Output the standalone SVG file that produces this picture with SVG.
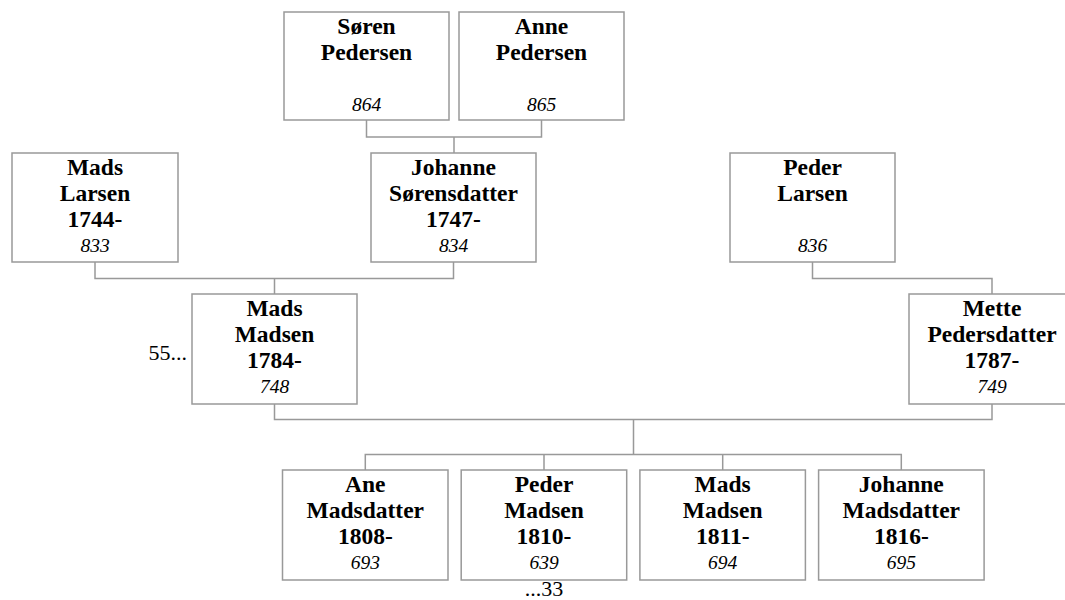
<svg xmlns="http://www.w3.org/2000/svg" width="1065" height="600" viewBox="0 0 1065 600" font-family="Liberation Serif, Times New Roman, serif">
<style>
.box{fill:#fff;stroke:#999;stroke-width:1.5}
.n{font-weight:bold;font-size:23.5px;text-anchor:middle;fill:#000}
.id{font-style:italic;font-size:19.5px;text-anchor:middle;fill:#000}
.x{font-size:22px;fill:#000}
.c{fill:none;stroke:#999;stroke-width:1.5}
</style>
<rect width="1065" height="600" fill="#fff"/>
<g id="connectors">
<path class="c" d="M366.5,120V137H541.5V120M454,137V153"/>
<path class="c" d="M95,262V278.5H453.5V262M274.5,278.5V294"/>
<path class="c" d="M812.5,262V278.5H992V294"/>
<path class="c" d="M274.5,404V419.5H992V404M633.5,419.5V454.5"/>
<path class="c" d="M365.3,470V454.5H901.3V470M544,454.5V470M722.7,454.5V470"/>
</g>
<g id="n864"><rect class="box" x="284" y="12" width="165" height="108"/>
<text class="n" x="366.5" y="34">Søren</text><text class="n" x="366.5" y="59.5">Pedersen</text><text class="id" x="366.5" y="111">864</text></g>
<g id="n865"><rect class="box" x="459" y="12" width="165" height="108"/>
<text class="n" x="541.5" y="34">Anne</text><text class="n" x="541.5" y="59.5">Pedersen</text><text class="id" x="541.5" y="111">865</text></g>
<g id="n833"><rect class="box" x="12" y="153" width="166" height="109"/>
<text class="n" x="95" y="175">Mads</text><text class="n" x="95" y="200.5">Larsen</text><text class="n" x="95" y="227">1744-</text><text class="id" x="95" y="251.5">833</text></g>
<g id="n834"><rect class="box" x="371" y="153" width="165" height="109"/>
<text class="n" x="453.5" y="175">Johanne</text><text class="n" x="453.5" y="200.5">Sørensdatter</text><text class="n" x="453.5" y="227">1747-</text><text class="id" x="453.5" y="251.5">834</text></g>
<g id="n836"><rect class="box" x="730" y="153" width="165" height="109"/>
<text class="n" x="812.5" y="175">Peder</text><text class="n" x="812.5" y="200.5">Larsen</text><text class="id" x="812.5" y="251.5">836</text></g>
<g id="n748"><rect class="box" x="192" y="294" width="165" height="110"/>
<text class="n" x="274.5" y="316">Mads</text><text class="n" x="274.5" y="341.5">Madsen</text><text class="n" x="274.5" y="368">1784-</text><text class="id" x="274.5" y="392.5">748</text></g>
<text class="x" x="187" y="359.5" text-anchor="end">55...</text>
<g id="n749"><rect class="box" x="909" y="294" width="166" height="110"/>
<text class="n" x="992" y="316">Mette</text><text class="n" x="992" y="341.5">Pedersdatter</text><text class="n" x="992" y="368">1787-</text><text class="id" x="992" y="392.5">749</text></g>
<g id="n693"><rect class="box" x="282.5" y="470" width="165.5" height="110"/>
<text class="n" x="365.3" y="492">Ane</text><text class="n" x="365.3" y="517.5">Madsdatter</text><text class="n" x="365.3" y="544">1808-</text><text class="id" x="365.3" y="568.5">693</text></g>
<g id="n639"><rect class="box" x="461.2" y="470" width="165.5" height="110"/>
<text class="n" x="544" y="492">Peder</text><text class="n" x="544" y="517.5">Madsen</text><text class="n" x="544" y="544">1810-</text><text class="id" x="544" y="568.5">639</text></g>
<text class="x" x="544" y="596" text-anchor="middle">...33</text>
<g id="n694"><rect class="box" x="639.9" y="470" width="165.5" height="110"/>
<text class="n" x="722.7" y="492">Mads</text><text class="n" x="722.7" y="517.5">Madsen</text><text class="n" x="722.7" y="544">1811-</text><text class="id" x="722.7" y="568.5">694</text></g>
<g id="n695"><rect class="box" x="818.6" y="470" width="165.5" height="110"/>
<text class="n" x="901.3" y="492">Johanne</text><text class="n" x="901.3" y="517.5">Madsdatter</text><text class="n" x="901.3" y="544">1816-</text><text class="id" x="901.3" y="568.5">695</text></g>
</svg>
